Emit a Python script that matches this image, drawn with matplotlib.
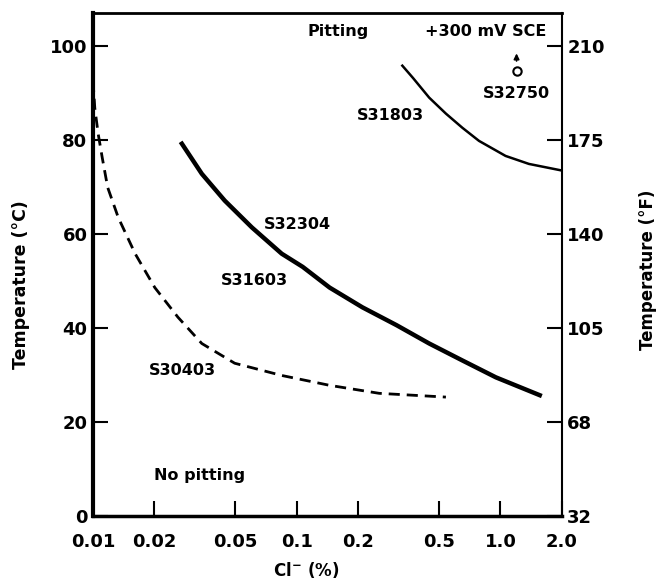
import matplotlib
matplotlib.use("Agg")
import matplotlib.pyplot as plt
import numpy as np

plt.rcParams['font.family'] = ['DejaVu Sans']
plt.rcParams['font.weight'] = 'bold'
plt.rcParams['axes.labelweight'] = 'bold'

# data (Cl- in %, temperature in C)
cl_s30403 = [0.01, 0.0102, 0.0106, 0.0111, 0.0118, 0.0133, 0.0161, 0.0201, 0.0261,
             0.0342, 0.0496, 0.0844, 0.145, 0.254, 0.54]
t_s30403 = [92.6, 86.8, 81.3, 76.2, 69.9, 63.5, 55.8, 48.6, 42.3,
            36.7, 32.5, 29.9, 27.8, 26.1, 25.3]

cl_s31603 = [0.0273, 0.0342, 0.0443, 0.0602, 0.0844, 0.107, 0.145, 0.21, 0.309,
             0.447, 0.65, 0.95, 1.56]
t_s31603 = [79.2, 72.8, 67.1, 61.4, 55.8, 53.0, 48.6, 44.4, 40.6,
            36.7, 33.1, 29.5, 25.7]

cl_s31803 = [0.33, 0.372, 0.447, 0.54, 0.65, 0.785, 1.06, 1.38, 2.0]
t_s31803 = [95.8, 93.2, 89.0, 85.6, 82.6, 79.8, 76.6, 74.9, 73.5]

cl_s32750 = [1.2]
t_s32750 = [94.7]

xticks = [0.01, 0.02, 0.05, 0.1, 0.2, 0.5, 1.0, 2.0]
xticklabels = ['0.01', '0.02', '0.05', '0.1', '0.2', '0.5', '1.0', '2.0']
yticks_c = [0, 20, 40, 60, 80, 100]
yticks_f = ['32', '68', '105', '140', '175', '210']

fig = plt.figure(figsize=(6.57, 5.84), dpi=100)
ax = fig.add_axes([0.1416, 0.1164, 0.7134, 0.8613])

ax.plot(cl_s30403, t_s30403, 'k--', lw=2, dashes=(4, 2.5))
ax.plot(cl_s31603, t_s31603, 'k-', lw=3.2)
ax.plot(cl_s31803, t_s31803, 'k-', lw=1.8)
ax.plot(cl_s32750, t_s32750, 'o', ms=6, mfc='white', mec='k', mew=1.5)
ax.annotate('', xy=(1.2, 99), xytext=(1.2, 96.2),
            arrowprops=dict(arrowstyle='-|>', color='k', lw=1.2, mutation_scale=8))

ax.set_xscale('log')
ax.set_xlim(0.01, 2.0)
ax.set_ylim(0, 107)
ax.set_xticks(xticks)
ax.set_xticklabels(xticklabels)
ax.minorticks_off()
ax.set_yticks(yticks_c)

ax.tick_params(direction='in', length=11, width=1.5, labelsize=13)
ax.tick_params(axis='x', pad=12)
ax.tick_params(axis='y', pad=4)

for s, w in [('left', 3), ('bottom', 2.5), ('top', 2), ('right', 1.5)]:
    ax.spines[s].set_linewidth(w)

ax2 = ax.twinx()
ax2.set_ylim(ax.get_ylim())
ax2.set_yticks(yticks_c)
ax2.set_yticklabels(yticks_f)
ax2.tick_params(direction='in', length=11, width=1.5, labelsize=13, pad=4)
for s in ax2.spines.values():
    s.set_visible(False)

ax.set_ylabel('Temperature (°C)', fontsize=12.5)
ax.yaxis.set_label_coords(-0.135, 0.46)
ax2.set_ylabel('Temperature (°F)', fontsize=12)
ax2.yaxis.set_label_coords(1.165, 0.49)
ax.set_xlabel('Cl$^{\\mathbf{-}}$ (%)', fontsize=12)
ax.xaxis.set_label_coords(0.455, -0.088)

txt = dict(fontsize=11.5, fontweight='bold', ha='center', va='center')
ax.text(0.159, 103, 'Pitting', **txt)
ax.text(0.85, 103, '+300 mV SCE', **txt)
ax.text(1.2, 89.8, 'S32750', **txt)
ax.text(0.29, 85.3, 'S31803', **txt)
ax.text(0.101, 62, 'S32304', **txt)
ax.text(0.062, 50, 'S31603', **txt)
ax.text(0.0276, 31, 'S30403', **txt)
ax.text(0.0334, 8.7, 'No pitting', **txt)

fig.savefig('out.png', dpi=100)
